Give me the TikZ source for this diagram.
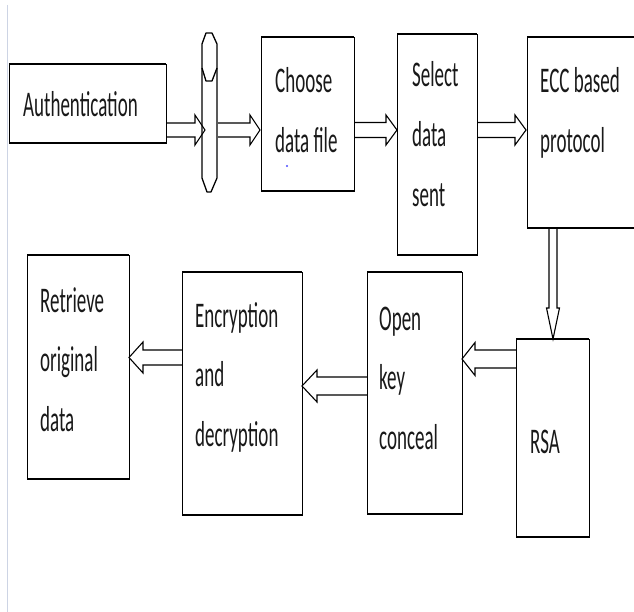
\documentclass[tikz,border=0pt]{standalone}
\usepackage{fontspec}
\setmainfont{Carlito}
\usetikzlibrary{calc}
\newcommand{\mystack}[1]{\scalebox{1}[1.9]{\begin{tabular}[t]{@{}l@{}}#1\end{tabular}}}
\newcommand{\fatarrow}[5]{%
  \coordinate (fS) at (#4);
  \coordinate (fT) at (#5);
  \coordinate (fB) at ($(fT)!#3pt!(fS)$);
  \draw[fatline] ($(fS)!#1pt!90:(fT)$) -- ($(fB)!#1pt!-90:(fS)$) -- ($(fB)!#2pt!-90:(fS)$) -- (fT)
     -- ($(fB)!#2pt!90:(fS)$) -- ($(fB)!#1pt!90:(fS)$) -- ($(fS)!#1pt!-90:(fT)$);
}
\begin{document}
\begin{tikzpicture}[x=1pt,y=-1pt,
  box/.style={draw=black, line width=0.9pt, rectangle, inner sep=0pt, outer sep=0pt},
  txt/.style={anchor=base west, inner sep=0pt, font=\fontsize{19}{31.5}\selectfont, text=black!90},
  fatline/.style={draw=black, line width=1.1pt, line join=miter},
  edge/.style={line width=2.4pt}]
\clip (0,0) rectangle (634,612);
\fill[white] (0,0) rectangle (634,612);
\draw[draw={rgb,255:red,205;green,212;blue,228}, line width=1pt] (7,5) -- (7,612);

% boxes
\node[box, minimum width=157pt, minimum height=79pt]  (auth)   at (87.5,103.5) {};
\node[minimum width=15pt, minimum height=159pt, inner sep=0pt, outer sep=0pt] (cap) at (209.5,112.5) {};
\node[box, minimum width=93pt,  minimum height=154pt] (choose) at (307.5,114) {};
\node[box, minimum width=80pt,  minimum height=221pt] (select) at (437,144.5) {};
\node[box, minimum width=118pt, minimum height=191pt] (ecc)    at (586,132.5) {};
\node[box, minimum width=73pt,  minimum height=198pt] (rsa)    at (552.5,438) {};
\node[box, minimum width=95pt,  minimum height=242pt] (open)   at (414.5,393) {};
\node[box, minimum width=120pt, minimum height=243pt] (enc)    at (242,393.5) {};
\node[box, minimum width=102pt, minimum height=224pt] (ret)    at (78,367) {};

\foreach \b in {auth,choose,select,ecc,rsa,open,enc,ret}{
  \draw[edge] (\b.north west) -- (\b.north east) (\b.south west) -- (\b.south east);
}

% capsule
\draw[line width=1.3pt, line join=round] (206,33) -- (212,33) -- (217,44) -- (217,178) -- (211,192) -- (207,192) -- (202,178) -- (202,44) -- cycle;
\draw[line width=1.3pt, line join=round] (202,68) -- (206,81) -- (212,81) -- (217,68);

% texts
\node[txt] (tauth)   at (23,117)  {\mystack{Authentication}};
\node[txt] (tchoose) at (275,93)  {\mystack{Choose\\data file}};
\node[txt] (tselect) at (412,87)  {\mystack{Select\\data\\sent}};
\node[txt] (tecc)    at (540,93)  {\mystack{ECC based\\protocol}};
\node[txt] (trsa)    at (530,453) {\mystack{RSA}};
\node[txt] (topen)   at (379,330) {\mystack{Open\\key\\conceal}};
\node[txt] (tenc)    at (195,327) {\mystack{Encryption\\and\\decryption}};
\node[txt] (tret)    at (40,312)  {\mystack{Retrieve\\original\\data}};
\fill[blue!70] (287,166) circle (1.1);

% arrows
\fatarrow{7}{15}{10}{$(auth.east)+(0,26.5)$}{$(cap.west)+(3,17.5)$}
\fatarrow{7}{15}{10}{$(cap.east)+(1,17.5)$}{$(choose.west)+(-1,16)$}
\fatarrow{7.5}{15}{11}{$(choose.east)+(0,16)$}{$(select.west)+(0,-14.5)$}
\fatarrow{7.5}{15}{11}{$(select.east)+(0,-14.5)$}{$(ecc.west)+(-1,-2.5)$}
\fatarrow{4}{6.5}{31}{$(ecc.south west)+(26,0)$}{$(rsa.north)+(0.5,0)$}
\fatarrow{9}{16.5}{13}{$(rsa.west)+(0,-79)$}{$(open.east)+(0,-34)$}
\fatarrow{9}{16}{15}{$(open.west)+(0,-7)$}{$(enc.east)+(0,-7.5)$}
\fatarrow{7.5}{15.5}{14}{$(enc.west)+(0,-36)$}{$(ret.east)+(0,-9.5)$}
\end{tikzpicture}
\end{document}
